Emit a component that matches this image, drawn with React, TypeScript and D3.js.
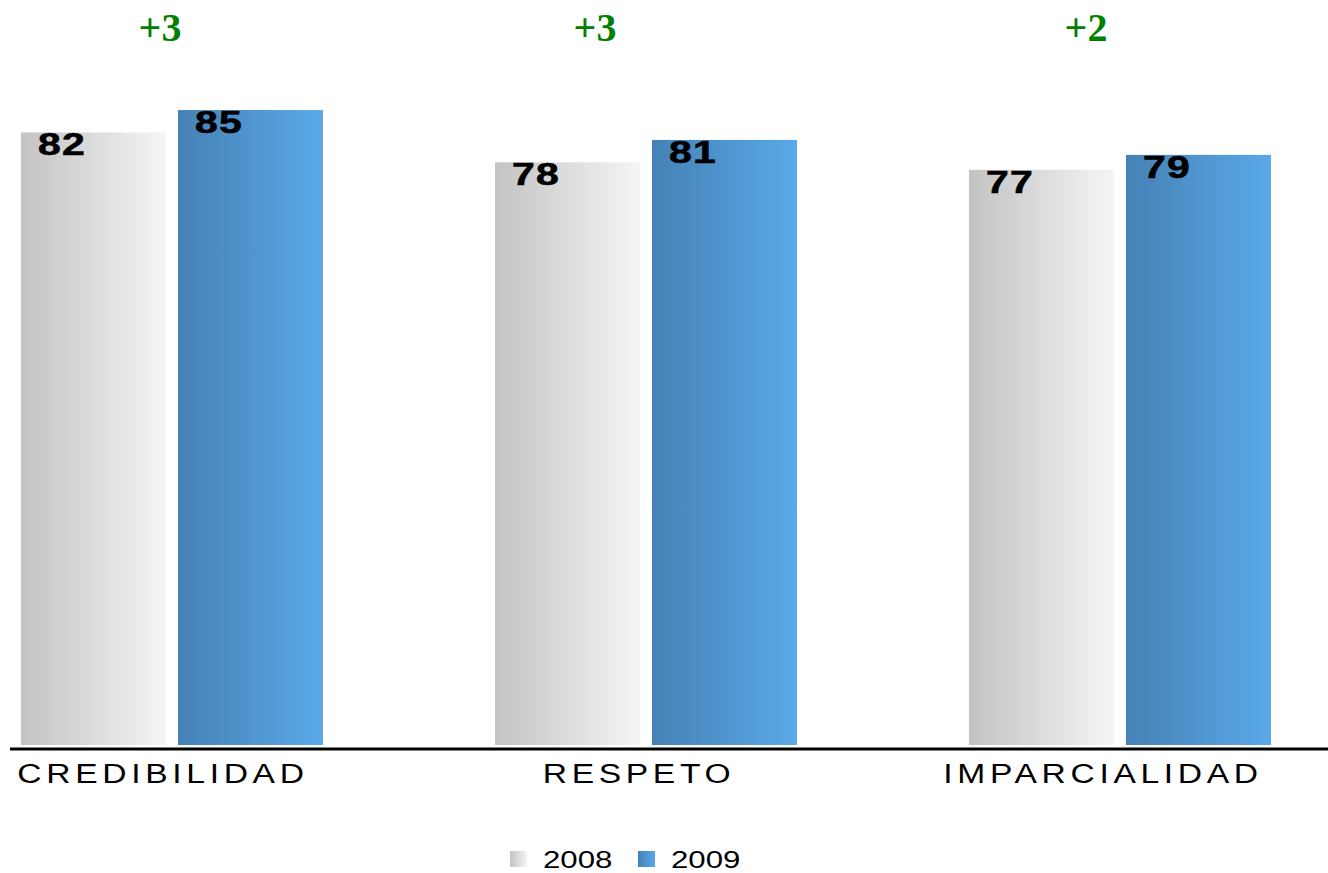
import React, { useRef, useEffect } from 'react';
import * as d3 from 'd3';

const categories = ['CREDIBILIDAD', 'RESPETO', 'IMPARCIALIDAD'];
const years = ['2008', '2009'];
const values2008 = [82, 78, 77];
const values2009 = [85, 81, 79];
const deltas = ['+3', '+3', '+2'];

const W = 1328;
const H = 873;

export default function App() {
  const svgRef = useRef<SVGSVGElement>(null);

  useEffect(() => {
    if (!svgRef.current) return;
    const svg = d3.select(svgRef.current);
    svg.selectAll('*').remove();

    const baseY = 745;
    const y = d3.scaleLinear().domain([0, 100]).range([baseY, -2]);

    // category bands, then a band for each year inside
    const x0 = d3.scaleBand<string>()
      .domain(categories)
      .range([21, 1271])
      .paddingInner(172 / 474)
      .paddingOuter(0);
    const x1 = d3.scaleBand<string>()
      .domain(years)
      .range([0, x0.bandwidth()])
      .paddingInner(12 / 157);

    const defs = svg.append('defs');
    const grad = (id: string, from: string, to: string) => {
      const g = defs.append('linearGradient').attr('id', id)
        .attr('x1', '0%').attr('x2', '100%').attr('y1', '0%').attr('y2', '0%');
      g.append('stop').attr('offset', '0%').attr('stop-color', from);
      g.append('stop').attr('offset', '100%').attr('stop-color', to);
    };
    grad('g2008', '#c3c3c3', '#f5f5f5');
    grad('g2009', '#4581b5', '#5aa9e8');

    const rows = categories.map((c, i) => ({
      cat: c,
      vals: [
        { year: '2008', v: values2008[i] },
        { year: '2009', v: values2009[i] },
      ],
    }));

    const groups = svg.append('g').selectAll('g')
      .data(rows)
      .join('g')
      .attr('transform', d => `translate(${x0(d.cat)},0)`);

    groups.selectAll('rect')
      .data(d => d.vals)
      .join('rect')
      .attr('x', d => x1(d.year)!)
      .attr('y', d => y(d.v))
      .attr('width', x1.bandwidth())
      .attr('height', d => baseY - y(d.v))
      .attr('fill', d => `url(#g${d.year})`);

    // value labels inside the bar tops (the original font is a wide one, so stretch it)
    groups.selectAll('text.val')
      .data(d => d.vals)
      .join('text')
      .attr('class', 'val')
      .attr('transform', d => `translate(${x1(d.year)! + 17},${y(d.v) + 23}) scale(1.32,1)`)
      .attr('font-family', '"Liberation Sans", Arial, sans-serif')
      .attr('font-weight', 'bold')
      .attr('font-size', 31)
      .attr('letter-spacing', 1)
      .attr('stroke', '#000')
      .attr('stroke-width', 0.6)
      .attr('fill', '#000')
      .text(d => d.v);

    // axis line
    svg.append('line')
      .attr('x1', 10).attr('x2', W)
      .attr('y1', 749).attr('y2', 749)
      .attr('stroke', '#000')
      .attr('stroke-width', 3);

    // category labels
    const labelShift = [-9, -7, -17];
    svg.append('g').selectAll('text')
      .data(categories)
      .join('text')
      .attr('transform', (d, i) => `translate(${x0(d)! + x0.bandwidth() / 2 + labelShift[i]},783) scale(1.2,1)`)
      .attr('text-anchor', 'middle')
      .attr('font-family', '"Liberation Sans", Arial, sans-serif')
      .attr('font-size', 28)
      .attr('letter-spacing', 3.9)
      .attr('fill', '#000')
      .text(d => d);

    // deltas in green
    const deltaShift = [-12, -51, -34];
    svg.append('g').selectAll('text')
      .data(deltas)
      .join('text')
      .attr('x', (d, i) => x0(categories[i])! + x0.bandwidth() / 2 + deltaShift[i])
      .attr('y', 41)
      .attr('text-anchor', 'middle')
      .attr('font-family', '"Liberation Serif", "Times New Roman", serif')
      .attr('font-weight', 'bold')
      .attr('font-size', 40)
      .attr('fill', '#008000')
      .text(d => d);

    // legend
    const legend = svg.append('g').attr('transform', 'translate(510,851)');
    const lx = [0, 128];
    years.forEach((yr, i) => {
      legend.append('rect')
        .attr('x', lx[i]).attr('y', 0)
        .attr('width', 17).attr('height', 16)
        .attr('fill', `url(#g${yr})`);
      legend.append('text')
        .attr('transform', `translate(${lx[i] + 33},17) scale(1.3,1)`)
        .attr('font-family', '"Liberation Sans", Arial, sans-serif')
        .attr('font-size', 24)
        .attr('fill', '#000')
        .text(yr);
    });
  }, []);

  return (
    <div style={{ position: 'absolute', left: 0, top: 0, width: W, height: H, background: '#fff' }}>
      <svg ref={svgRef} width={W} height={H} style={{ display: 'block' }} />
    </div>
  );
}
